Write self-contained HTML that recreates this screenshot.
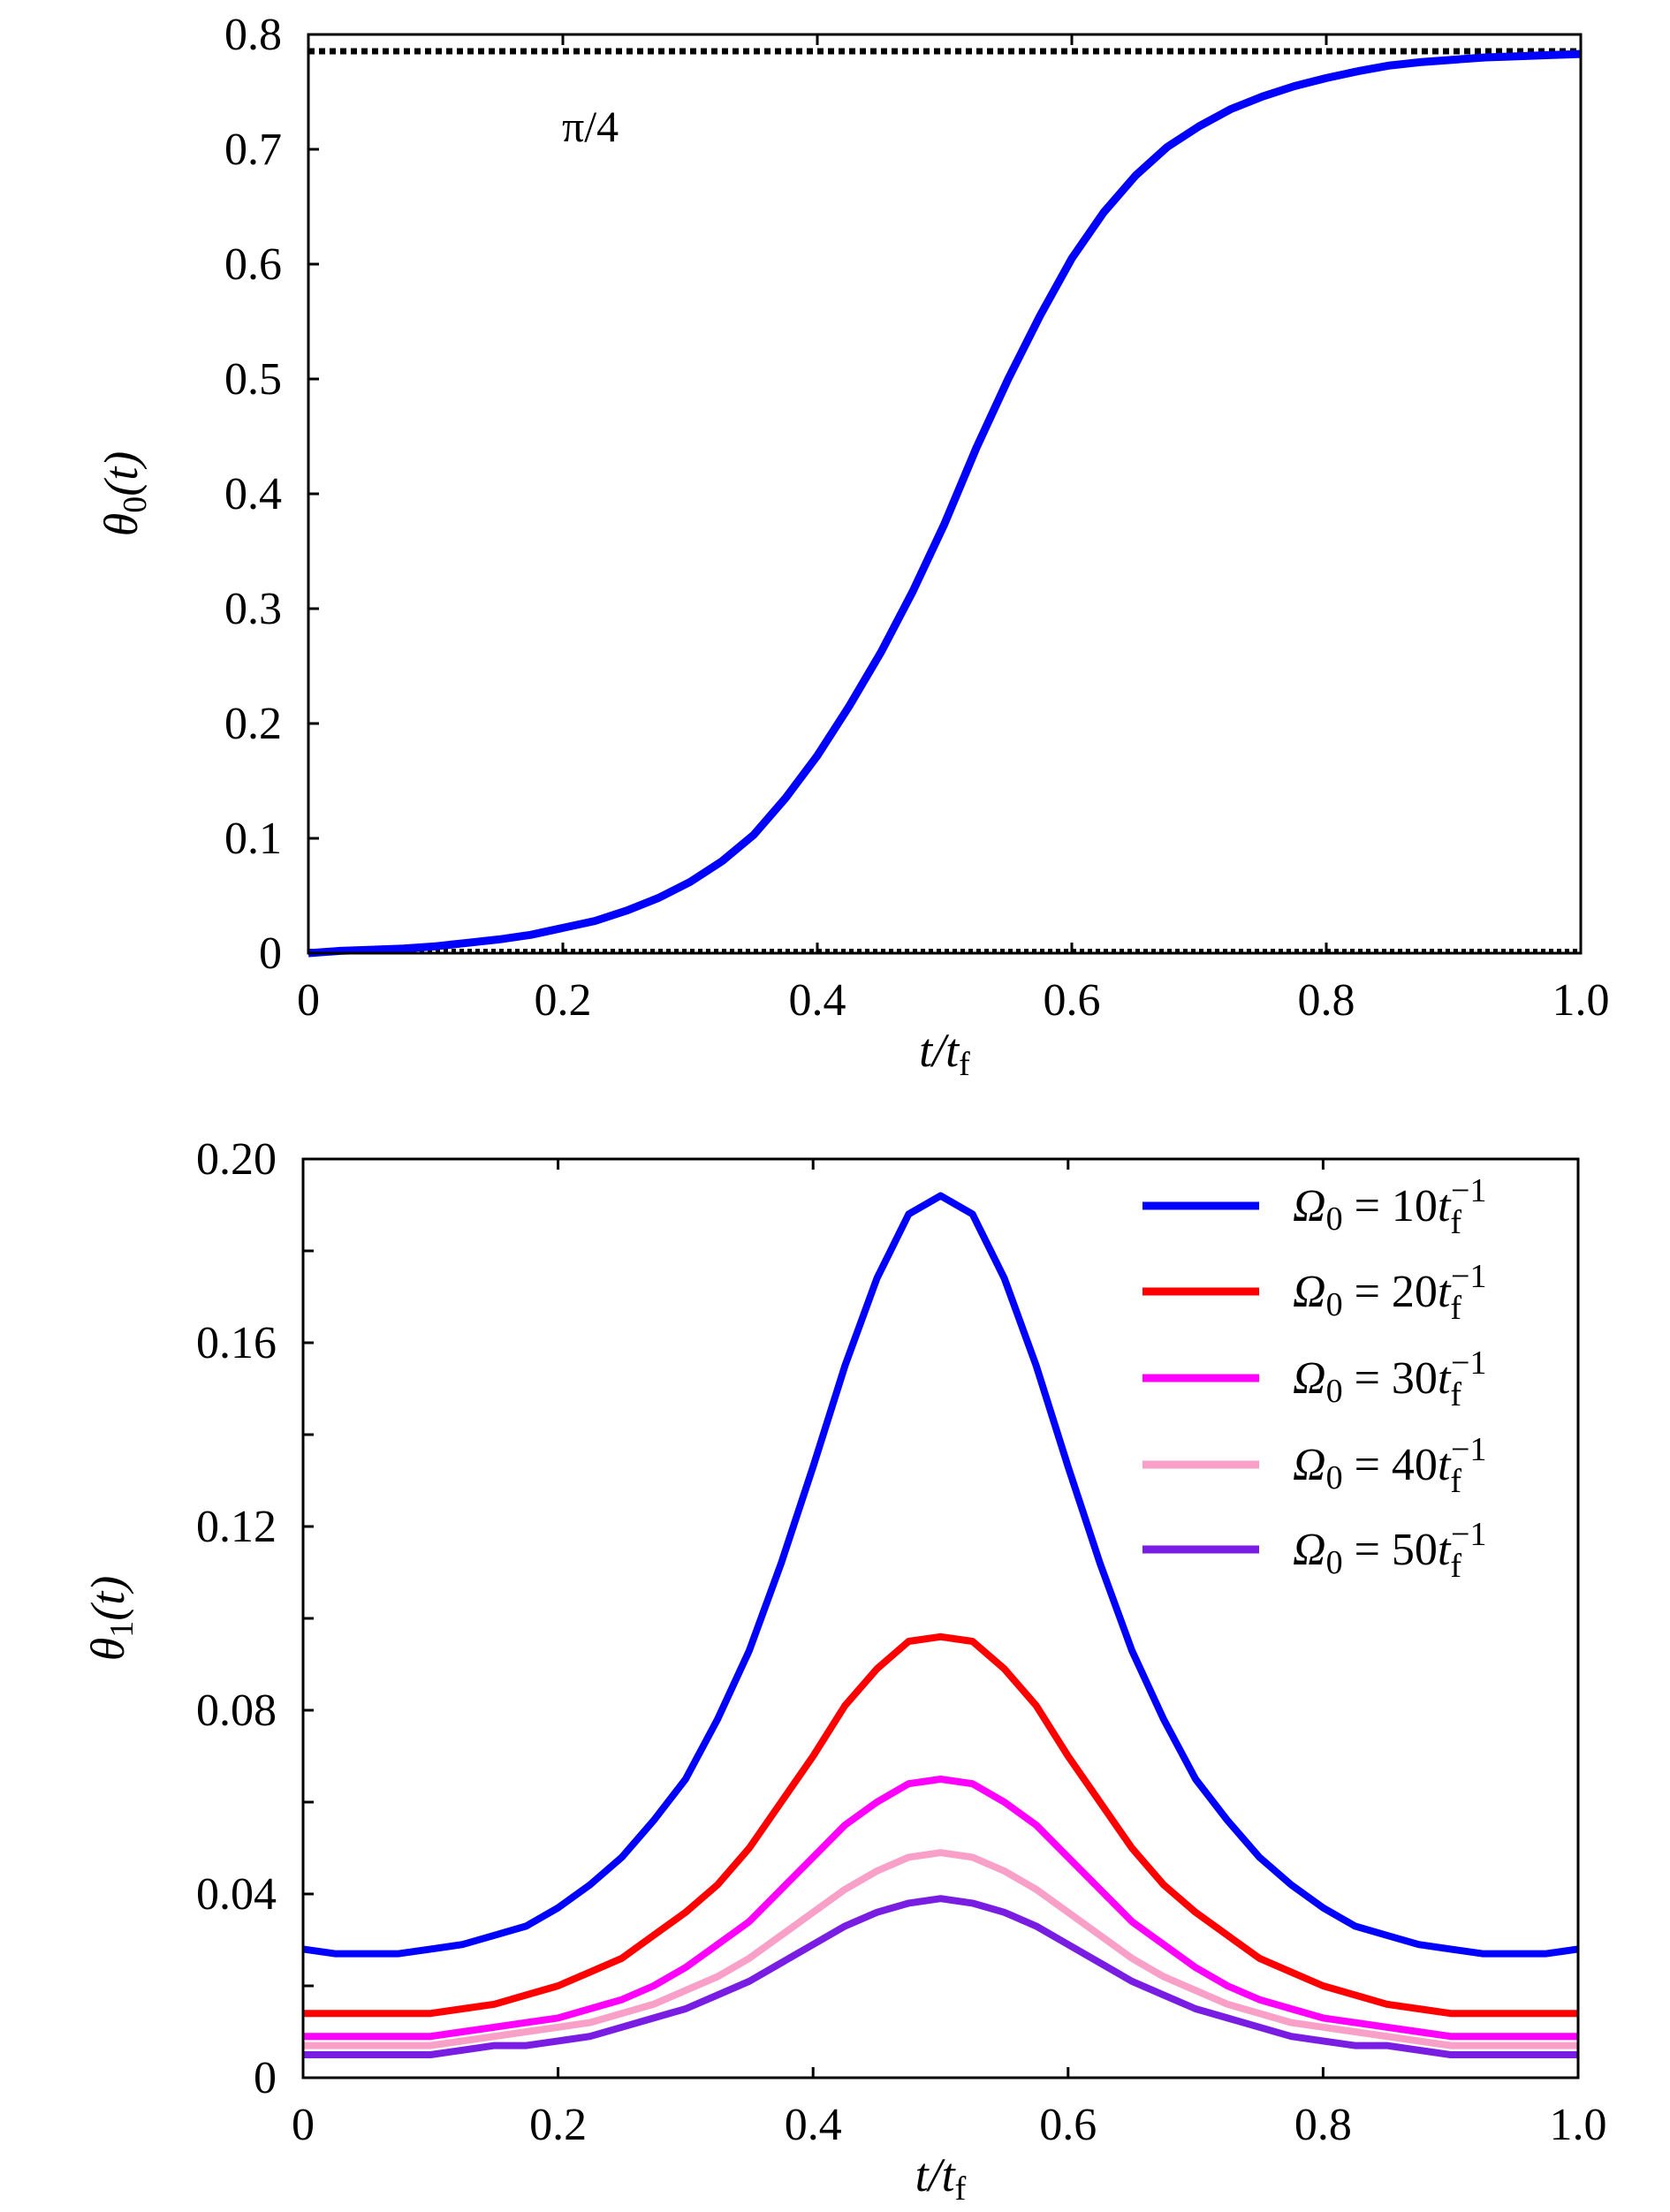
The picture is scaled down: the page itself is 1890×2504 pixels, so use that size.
<!DOCTYPE html>
<html><head><meta charset="utf-8"><style>
html,body{margin:0;padding:0;background:#fff}
svg{display:block}
svg text{font-family:"Liberation Serif","Times New Roman","DejaVu Serif",serif;fill:#000}
</style></head><body>
<svg id="fig" width="1890" height="2504" viewBox="0 0 1890 2504" xmlns="http://www.w3.org/2000/svg" font-family="Liberation Serif, DejaVu Serif, serif"></svg>
<script>
const tGrid = [0,0.025,0.05,0.075,0.1,0.125,0.15,0.175,0.2,0.225,0.25,0.275,0.3,0.325,0.35,0.375,0.4,0.425,0.45,0.475,0.5,0.525,0.55,0.575,0.6,0.625,0.65,0.675,0.7,0.725,0.75,0.775,0.8,0.825,0.85,0.875,0.9,0.925,0.95,0.975,1.0];
const theta0 = [0,0.002,0.003,0.004,0.006,0.009,0.012,0.016,0.022,0.028,0.037,0.048,0.062,0.080,0.103,0.135,0.172,0.215,0.262,0.315,0.374,0.44,0.50,0.555,0.605,0.645,0.677,0.702,0.72,0.735,0.746,0.755,0.762,0.768,0.773,0.776,0.778,0.780,0.781,0.782,0.783];
const legendNums = ["10","20","30","40","50"];
const blue10 = [0.028,0.027,0.027,0.027,0.028,0.029,0.031,0.033,0.037,0.042,0.048,0.056,0.065,0.078,0.093,0.112,0.133,0.155,0.174,0.188,0.192,0.188,0.174,0.155,0.133,0.112,0.093,0.078,0.065,0.056,0.048,0.042,0.037,0.033,0.031,0.029,0.028,0.027,0.027,0.027,0.028];
const red20 = [0.014,0.014,0.014,0.014,0.014,0.015,0.016,0.018,0.020,0.023,0.026,0.031,0.036,0.042,0.050,0.060,0.070,0.081,0.089,0.095,0.096,0.095,0.089,0.081,0.070,0.060,0.050,0.042,0.036,0.031,0.026,0.023,0.020,0.018,0.016,0.015,0.014,0.014,0.014,0.014,0.014];
const mag30 = [0.009,0.009,0.009,0.009,0.009,0.010,0.011,0.012,0.013,0.015,0.017,0.020,0.024,0.029,0.034,0.041,0.048,0.055,0.060,0.064,0.065,0.064,0.060,0.055,0.048,0.041,0.034,0.029,0.024,0.020,0.017,0.015,0.013,0.012,0.011,0.010,0.009,0.009,0.009,0.009,0.009];
const pink40 = [0.007,0.007,0.007,0.007,0.007,0.008,0.009,0.010,0.011,0.012,0.014,0.016,0.019,0.022,0.026,0.031,0.036,0.041,0.045,0.048,0.049,0.048,0.045,0.041,0.036,0.031,0.026,0.022,0.019,0.016,0.014,0.012,0.011,0.010,0.009,0.008,0.007,0.007,0.007,0.007,0.007];
const purp50 = [0.005,0.005,0.005,0.005,0.005,0.006,0.007,0.007,0.008,0.009,0.011,0.013,0.015,0.018,0.021,0.025,0.029,0.033,0.036,0.038,0.039,0.038,0.036,0.033,0.029,0.025,0.021,0.018,0.015,0.013,0.011,0.009,0.008,0.007,0.007,0.006,0.005,0.005,0.005,0.005,0.005];
const xTicks = ["0","0.2","0.4","0.6","0.8","1.0"];
const xTickVals = [0,0.2,0.4,0.6,0.8,1.0];
const topYTicks = ["0","0.1","0.2","0.3","0.4","0.5","0.6","0.7","0.8"];
const topYVals = [0,0.1,0.2,0.3,0.4,0.5,0.6,0.7,0.8];
const botYTicks = ["0","0.04","0.08","0.12","0.16","0.20"];
const botYVals = [0,0.04,0.08,0.12,0.16,0.20];

const NS="http://www.w3.org/2000/svg";
const svg=document.getElementById('fig');
function el(tag,attrs,parent){const e=document.createElementNS(NS,tag);for(const k in attrs)e.setAttribute(k,attrs[k]);(parent||svg).appendChild(e);return e;}

function axes(cfg){
  const g=el('g',{});
  
  
  const X=v=>cfg.x0+(cfg.x1-cfg.x0)*v;
  const Y=v=>cfg.y0-(cfg.y0-cfg.y1)*(v/cfg.ymax);
  xTickVals.forEach((v,i)=>{
    const t=el('line',{x1:X(v),x2:X(v),y1:cfg.y0,y2:cfg.y0-12,stroke:'#000','stroke-width':3},g);
    
    
    el('line',{x1:X(v),x2:X(v),y1:cfg.y1,y2:cfg.y1+12,stroke:'#000','stroke-width':3},g);
    const lb=el('text',{x:X(v),y:cfg.y0+70,'font-size':52,'text-anchor':'middle'},g);
    lb.textContent=xTicks[i];
    
    
  });
  for(let v=0;v<=cfg.ymax+1e-9;v+=cfg.minor){
    el('line',{x1:cfg.x0,x2:cfg.x0+12,y1:Y(v),y2:Y(v),stroke:'#000','stroke-width':3},g);
  }
  cfg.yVals.forEach((v,i)=>{
    const lb=el('text',{x:cfg.x0-30,y:Y(v)+17,'font-size':52,'text-anchor':'end'},g);
    lb.textContent=cfg.yLabels[i];
    
    
  });
  const xt=el('text',{x:(cfg.x0+cfg.x1)/2,y:cfg.y0+128,'font-size':54,'text-anchor':'middle','font-style':'italic'},g);
  xt.innerHTML='t/t<tspan font-size="38" dy="10" font-style="normal">f</tspan>';
  
  
  const cy=(cfg.y0+cfg.y1)/2;
  const yt=el('text',{x:0,y:0,'font-size':54,'text-anchor':'middle','font-style':'italic',transform:`translate(${cfg.ylabX},${cy}) rotate(-90)`},g);
  yt.innerHTML='θ<tspan font-size="38" dy="10" font-style="normal">'+cfg.sub+'</tspan><tspan dy="-10">(t)</tspan>';
  
  
  return {g,X,Y};
}
function series(ax,vals,color,name,w){
  const d=tGrid.map((t,i)=>(i?'L':'M')+ax.X(t).toFixed(1)+','+ax.Y(vals[i]).toFixed(1)).join(' ');
  const p=el('path',{d,fill:'none',stroke:color,'stroke-width':w||7,'stroke-linejoin':'round'},ax.g);
  
  
}
function frame(ax,cfg){
  const r=el('rect',{x:cfg.x0,y:cfg.y1,width:cfg.x1-cfg.x0,height:cfg.y0-cfg.y1,fill:'none',stroke:'#000','stroke-width':3},ax.g);
  
  
}

const c1={name:'top-panel',x0:349,x1:1789,y0:1079,y1:39,ymax:0.8,minor:0.1,yVals:topYVals,yLabels:topYTicks,ylabX:155,sub:'0'};
const a1=axes(c1);
const piLine=el('line',{x1:c1.x0,x2:c1.x1,y1:a1.Y(Math.PI/4),y2:a1.Y(Math.PI/4),stroke:'#000','stroke-width':7,'stroke-dasharray':'7 5'},a1.g);


const zLine=el('line',{x1:c1.x0,x2:c1.x1,y1:a1.Y(0)-3,y2:a1.Y(0)-3,stroke:'#000','stroke-width':4,'stroke-dasharray':'5 4'},a1.g);


series(a1,theta0,'#0000ff','theta0-curve',9);
frame(a1,c1);
const pl=el('text',{x:636,y:160,'font-size':50},a1.g);
pl.textContent='π/4';



const c2={name:'bottom-panel',x0:343,x1:1786,y0:2352,y1:1312,ymax:0.20,minor:0.02,yVals:botYVals,yLabels:botYTicks,ylabX:140,sub:'1'};
const a2=axes(c2);
const colors=['#0000ff','#ff0000','#ff00ff','#f9a0c9','#7a1de3'];
const data=[blue10,red20,mag30,pink40,purp50];
data.forEach((d,i)=>series(a2,d,colors[i],'theta1-omega'+legendNums[i]+'-curve',8));
frame(a2,c2);
const lg=el('g',{},a2.g);


const ly=[1365,1462,1560,1658,1754];
legendNums.forEach((n,i)=>{
  const ln=el('line',{x1:1293,x2:1425,y1:ly[i],y2:ly[i],stroke:colors[i],'stroke-width':9},lg);
  
  
  const tx=el('text',{x:1463,y:ly[i]+17,'font-size':52},lg);
  tx.innerHTML='<tspan font-style="italic">Ω</tspan><tspan font-size="38" dy="10">0</tspan><tspan dy="-10"> = '+n+'</tspan><tspan font-style="italic">t</tspan><tspan font-size="38" dy="14">f</tspan><tspan font-size="38" dx="-12" dy="-36">−1</tspan>';
  
  
});
</script>
</body></html>
